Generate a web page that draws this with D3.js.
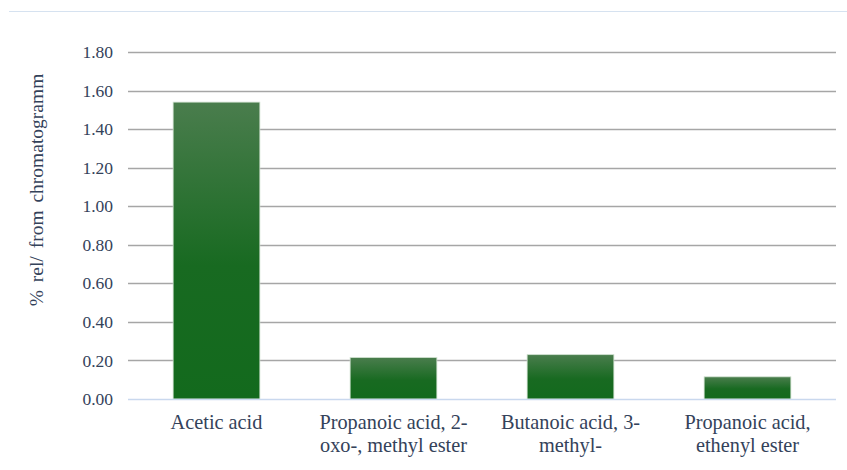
<!DOCTYPE html>
<html lang="en">
<head>
  <meta charset="UTF-8" />
  <title>Acids, % rel</title>
  <script src="https://d3js.org/d3.v7.min.js"></script>
  <style>
    body { margin: 0; background: #fff; }
    svg { display: block; }
  </style>
</head>
<body>
<svg width="847" height="470"></svg>
<script>
const categories = [
  ["Acetic acid"],
  ["Propanoic acid, 2-", "oxo-, methyl ester"],
  ["Butanoic acid, 3-", "methyl-"],
  ["Propanoic acid,", "ethenyl ester"]
];
const values = [1.54, 0.215, 0.23, 0.115];
const yTicks = [0, 0.2, 0.4, 0.6, 0.8, 1.0, 1.2, 1.4, 1.6, 1.8];
const yLabel = "% rel/ from chromatogramm";

const FONT = '"Liberation Serif"';
const TEXT_COLOR = "#34425a";

const svg = d3.select("svg");
const margin = { top: 52, right: 11, bottom: 71, left: 128 };
const width = 847 - margin.left - margin.right,
      height = 470 - margin.top - margin.bottom;

// top frame line
svg.append("line")
  .attr("x1", 9).attr("x2", 847)
  .attr("y1", 11.5).attr("y2", 11.5)
  .attr("stroke", "#d6e2f0").attr("stroke-width", 1.2);

const defs = svg.append("defs");
const grad = defs.append("linearGradient")
  .attr("id", "barGrad")
  .attr("x1", 0).attr("y1", 0).attr("x2", 0).attr("y2", 1);
grad.append("stop").attr("offset", "0%").attr("stop-color", "#4a7d4d");
grad.append("stop").attr("offset", "55%").attr("stop-color", "#186a21");
grad.append("stop").attr("offset", "100%").attr("stop-color", "#136a1d");

const g = svg.append("g").attr("transform", `translate(${margin.left},${margin.top})`);

const x = d3.scaleBand()
  .domain(d3.range(categories.length))
  .range([0, width])
  .paddingInner(0.51)
  .paddingOuter(0.255);

const y = d3.scaleLinear().domain([0, 1.8]).range([height, 0]);

// gridlines
g.append("g")
  .selectAll("line")
  .data(yTicks.filter(d => d > 0))
  .enter().append("line")
  .attr("x1", 0).attr("x2", width)
  .attr("y1", d => Math.round(y(d)) + 0.5)
  .attr("y2", d => Math.round(y(d)) + 0.5)
  .attr("stroke", "#a6a6a6").attr("stroke-width", 1.3);

// y axis labels
const yAxis = g.append("g")
  .call(d3.axisLeft(y).tickValues(yTicks).tickFormat(d3.format(".2f")).tickSize(0).tickPadding(15));
yAxis.attr("font-family", null);
yAxis.select(".domain").remove();
yAxis.selectAll("text")
  .style("font-size", "17.5px")
  .style("font-family", FONT)
  .style("fill", TEXT_COLOR);

// bars
g.selectAll("rect.bar")
  .data(values)
  .enter().append("rect")
  .attr("class", "bar")
  .attr("x", (d, i) => x(i))
  .attr("y", d => y(d))
  .attr("width", x.bandwidth())
  .attr("height", d => height - y(d))
  .attr("fill", "url(#barGrad)")
  .attr("stroke", "#cfe0cf")
  .attr("stroke-width", 0.8);

// baseline
g.append("line")
  .attr("x1", 0).attr("x2", width)
  .attr("y1", height + 0.5).attr("y2", height + 0.5)
  .attr("stroke", "#c9d8ee").attr("stroke-width", 1.3);

// x labels
const xl = g.append("g").selectAll("text")
  .data(categories)
  .enter().append("text")
  .attr("text-anchor", "middle")
  .attr("x", (d, i) => x(i) + x.bandwidth() / 2)
  .attr("y", height + 30)
  .style("font-family", FONT)
  .style("fill", TEXT_COLOR)
  .style("font-size", "20.3px");
xl.each(function(lines) {
  d3.select(this).selectAll("tspan")
    .data(lines)
    .enter().append("tspan")
    .attr("x", d3.select(this).attr("x"))
    .attr("dy", (d, i) => i === 0 ? 0 : 23)
    .text(d => d);
});

// y label
svg.append("text")
  .attr("transform", `translate(43,190) rotate(-90)`)
  .attr("text-anchor", "middle")
  .style("font-family", FONT)
  .style("fill", TEXT_COLOR)
  .style("font-size", "19.5px")
  .style("word-spacing", "3px")
  .text(yLabel);
</script>
</body>
</html>
